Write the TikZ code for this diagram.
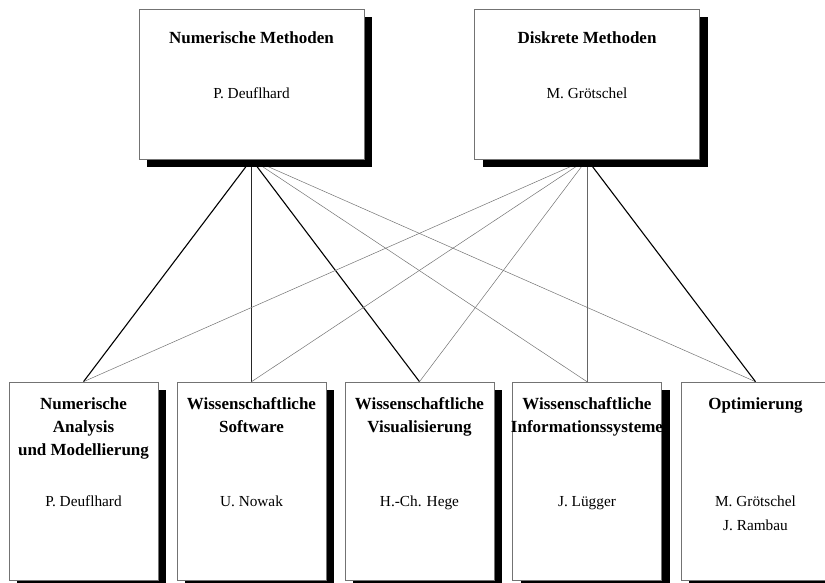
\documentclass[tikz,border=0pt]{standalone}
\usepackage{fontspec}
\setmainfont{Liberation Serif}
\usetikzlibrary{shadows}
\pgfdeclarelayer{bg}
\pgfsetlayers{bg,main}
\begin{document}
\begin{tikzpicture}[x=1pt,y=-1pt,
  box/.style={draw=black!55, line width=0.6pt, fill=white, inner sep=0pt,
    general shadow={fill=black, shadow xshift=8pt, shadow yshift=-8pt}},
  topbox/.style={box, minimum width=225pt, minimum height=150pt},
  botbox/.style={box, minimum width=149pt, minimum height=198pt},
  ttl/.style={font=\bfseries\fontsize{17}{23}\selectfont, align=center, anchor=base, inner sep=0pt},
  nme/.style={font=\fontsize{15.3}{23.5}\selectfont, align=center, anchor=base, inner sep=0pt},
  strong/.style={line width=1.1pt, black},
  medium/.style={line width=0.8pt, black!85},
  weak/.style={line width=0.5pt, black!55},
]
\useasboundingbox (0,0) rectangle (825,583);
\clip (0,0) rectangle (825,583);

% top boxes
\node[topbox] (nm) at (251.5,84) {};
\node[topbox] (dm) at (587,84) {};
\node[ttl] (nmt) at (251.5,44) {Numerische Methoden};
\node[nme] (nmn) at (251.5,99) {P. Deuflhard};
\node[ttl] (dmt) at (587,44) {Diskrete Methoden};
\node[nme] (dmn) at (587,99) {M. Grötschel};

% bottom boxes
\node[botbox] (b1) at (83.5,481) {};
\node[botbox] (b2) at (251.5,481) {};
\node[botbox] (b3) at (419.5,481) {};
\node[botbox] (b4) at (587,481) {};
\node[botbox] (b5) at (755.5,481) {};

% (anchor=base of a multi-line node is the baseline of its last line)
\node[ttl] (b1t) at (83.5,455.5) {Numerische\\Analysis\\und Modellierung};
\node[ttl] (b2t) at (251.5,432.5) {Wissenschaftliche\\Software};
\node[ttl] (b3t) at (419.5,432.5) {Wissenschaftliche\\Visualisierung};
\node[ttl] (b4t) at (587,432.5) {Wissenschaftliche\\Informationssysteme};
\node[ttl] (b5t) at (755.5,409.5) {Optimierung};

\node[nme] (b1n) at (83.5,506.5) {P. Deuflhard};
\node[nme] (b2n) at (251.5,506.5) {U. Nowak};
\node[nme] (b3n) at (419.5,506.5) {H.-Ch. Hege};
\node[nme] (b4n) at (587,506.5) {J. Lügger};
\node[nme] (b5n) at (755.5,530) {M. Grötschel\\J. Rambau};

% connectors
\begin{pgfonlayer}{bg}
\draw[strong] (nm.south) -- (b1.north);
\draw[medium] (nm.south) -- (b2.north);
\draw[strong] (nm.south) -- (b3.north);
\draw[weak] (nm.south) -- (b4.north);
\draw[weak] (nm.south) -- (b5.north);
\draw[weak] (dm.south) -- (b1.north);
\draw[weak] (dm.south) -- (b2.north);
\draw[weak] (dm.south) -- (b3.north);
\draw[medium, black!60] (dm.south) -- (b4.north);
\draw[strong] (dm.south) -- (b5.north);
\end{pgfonlayer}
\end{tikzpicture}
\end{document}
